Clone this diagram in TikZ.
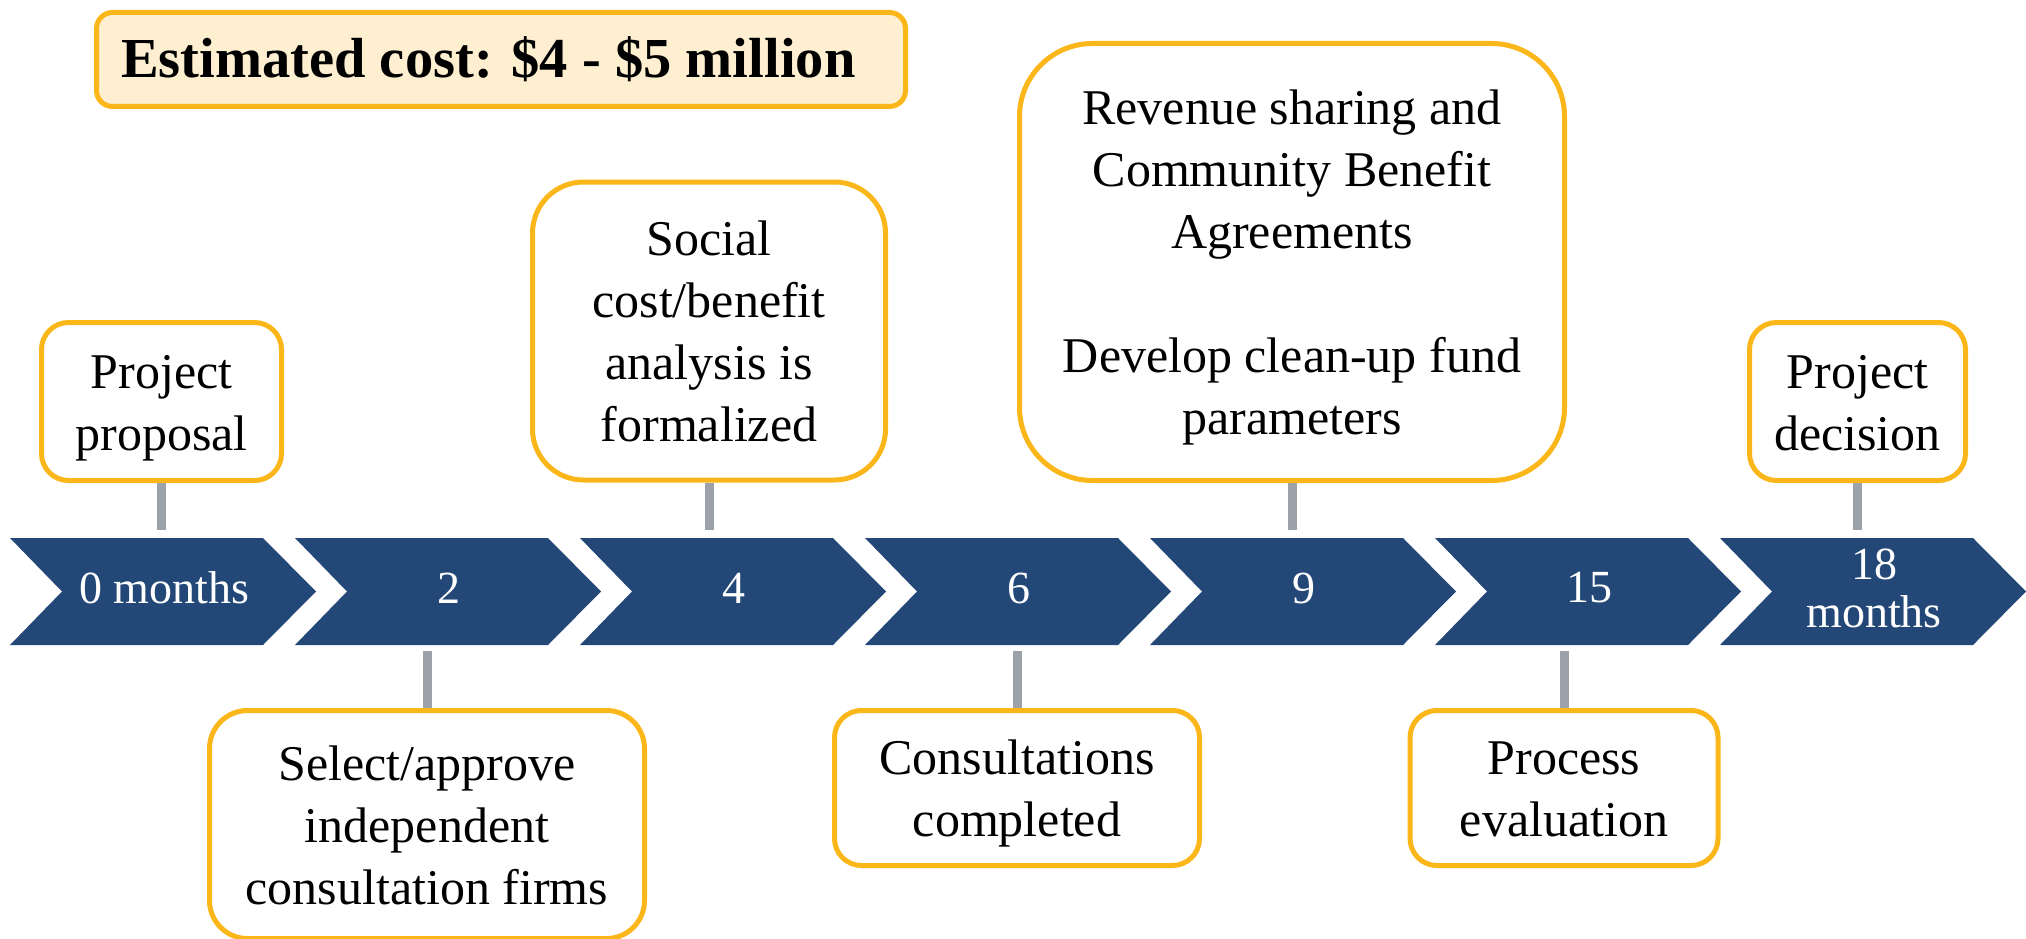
\documentclass[tikz,border=0pt]{standalone}
\usepackage{fontspec}
\setmainfont{Liberation Serif}
\definecolor{chev}{HTML}{234878}
\definecolor{gold}{HTML}{FBB61A}
\definecolor{cream}{HTML}{FDEFD0}
\definecolor{stemgray}{HTML}{9CA2AA}
\newcommand{\topstrut}{\rule{0pt}{46pt}}
\newcommand{\botstrut}{\rule[-11pt]{0pt}{11pt}}
\tikzset{
  box/.style={draw=gold, line width=5pt, fill=white, align=center, inner sep=0pt,
    font=\fontsize{50}{62}\selectfont},
  chevshape/.style={fill=chev, draw=none},
  chevtext/.style={text=white, align=center, inner sep=0pt, font=\fontsize{46}{48}\selectfont},
  stem/.style={draw=stemgray, line width=9pt},
}
\begin{document}
\begin{tikzpicture}[x=1pt,y=-1pt]
\useasboundingbox (0,0) rectangle (2026,939);
% chevrons
\foreach \i/\t in {1/0 months,2/2,3/4,4/6,5/9,6/15,7/{18\\months}}{
  \pgfmathsetmacro{\L}{10+285*(\i-1)}
  \fill[chevshape] (\L,538) -- (\L+253,538) -- (\L+306,591.5) -- (\L+253,645) -- (\L,645) -- (\L+52,591.5) -- cycle;
  \node[chevtext] (c\i) at (\L+154,588) {\t};
}
\coordinate (ytop) at (0,530);
\coordinate (ybot) at (0,651);
% cost box
\node[draw=gold, line width=5pt, fill=cream, rounded corners=16pt, inner xsep=24.5pt, inner ysep=0pt,
  minimum height=94pt, font=\bfseries\fontsize{56.5}{62}\selectfont]
  (ec) at (501,59.5) {\makebox[760pt][l]{Estimated cost: \$4 - \$5 million}};
% upper boxes
\node[box, rounded corners=27pt, minimum width=240pt, minimum height=158pt] (pp) at (161.5,401.5)
  {\topstrut Project\\proposal\botstrut};
\node[box, rounded corners=51pt, minimum width=353pt, minimum height=298pt] (sc) at (709,331)
  {\topstrut Social\\cost/benefit\\analysis is\\formalized\botstrut};
\node[box, rounded corners=73pt, minimum width=545pt, minimum height=437pt] (rv) at (1292,262)
  {\topstrut Revenue sharing and\\Community Benefit\\Agreements\\[62pt]Develop clean-up fund\\parameters\botstrut};
\node[box, rounded corners=27pt, minimum width=216pt, minimum height=158pt] (pd) at (1857.5,401.5)
  {\topstrut Project\\decision\botstrut};
% lower boxes
\node[box, rounded corners=38pt, minimum width=435pt, minimum height=228pt] (sa) at (427,824.5)
  {\topstrut Select/approve\\independent\\consultation firms\botstrut};
\node[box, rounded corners=27pt, minimum width=365pt, minimum height=155pt] (co) at (1017,788)
  {\topstrut Consultations\\completed\botstrut};
\node[box, rounded corners=27pt, minimum width=308pt, minimum height=155pt] (pe) at (1564,788)
  {\topstrut Process\\evaluation\botstrut};
% stems
\draw[stem] (pp.south) -- (pp.south |- ytop);
\draw[stem] (sc.south) -- (sc.south |- ytop);
\draw[stem] (rv.south) -- (rv.south |- ytop);
\draw[stem] (pd.south) -- (pd.south |- ytop);
\draw[stem] (sa.north) -- (sa.north |- ybot);
\draw[stem] (co.north) -- (co.north |- ybot);
\draw[stem] (pe.north) -- (pe.north |- ybot);
\end{tikzpicture}
\end{document}
